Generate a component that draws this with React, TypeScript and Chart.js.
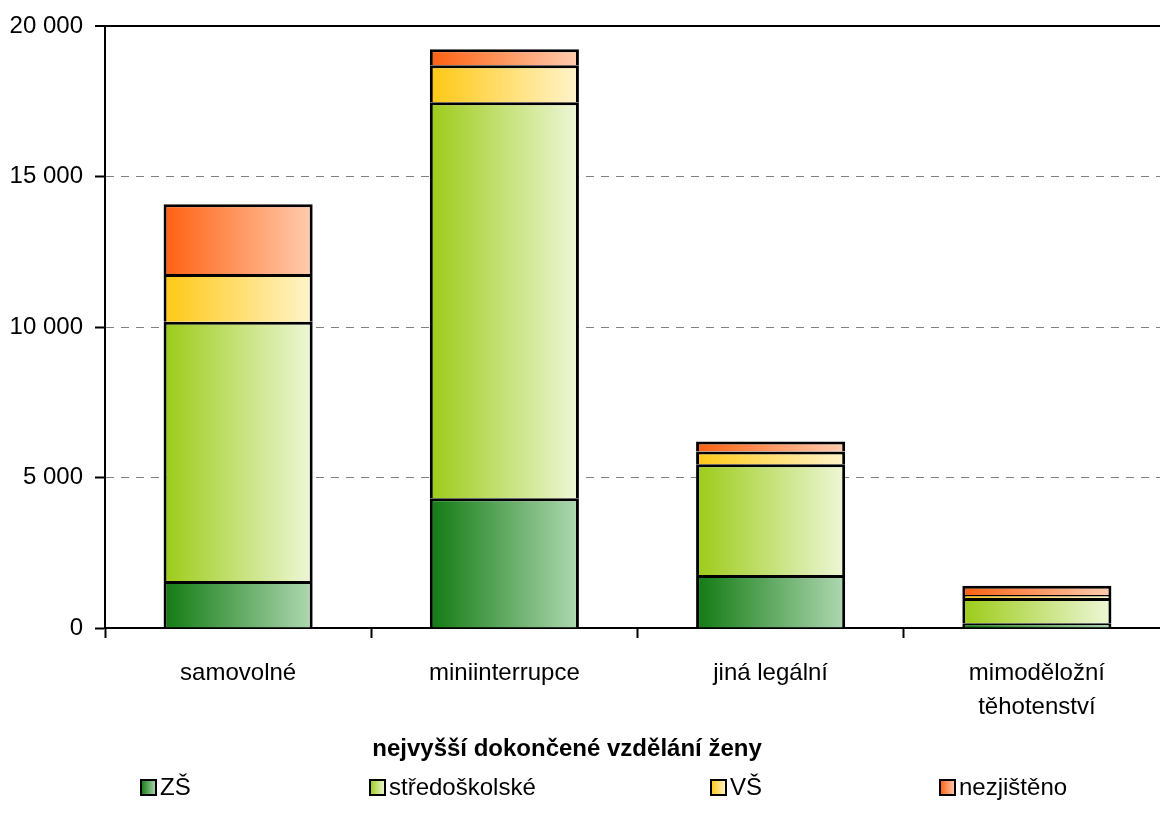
import React, { useEffect, useRef } from "react";
import { Chart, registerables } from "chart.js";

Chart.register(...registerables);

const categories: (string | string[])[] = [
  "samovolné",
  "miniinterrupce",
  "jiná legální",
  ["mimoděložní", "těhotenství"],
];
const seriesNames = ["ZŠ", "středoškolské", "VŠ", "nezjištěno"];
const zsValues = [1560, 4310, 1760, 160];
const ssValues = [8620, 13170, 3680, 835];
const vsValues = [1590, 1230, 430, 100];
const nezValues = [2320, 530, 330, 310];
const yTicks = [0, 5000, 10000, 15000, 20000];
const xTitle = "nejvyšší dokončené vzdělání ženy";

const gradColors: [string, string][] = [
  ["#127a12", "#afd8b2"],
  ["#9ccb18", "#eef7d8"],
  ["#ffc814", "#fff4cc"],
  ["#ff6010", "#ffcdb0"],
];

const FONT = "'Liberation Sans Narrow', 'Arial Narrow', 'Liberation Sans', Arial, sans-serif";
const BAR_PCT = 0.56;

const legendX = [141, 370, 711, 940];

export default function App() {
  const ref = useRef<HTMLCanvasElement | null>(null);

  useEffect(() => {
    if (!ref.current) return;
    const values = [zsValues, ssValues, vsValues, nezValues];

    const makeBg = (si: number) => (ctx: any) => {
      const chart = ctx.chart;
      const area = chart.chartArea;
      const xs = chart.scales?.x;
      if (!area || !xs || ctx.dataIndex === undefined) return gradColors[si][0];
      const cx = xs.getPixelForValue(ctx.dataIndex);
      const w = (xs.width / categories.length) * BAR_PCT;
      const g = chart.ctx.createLinearGradient(cx - w / 2, 0, cx + w / 2, 0);
      g.addColorStop(0, gradColors[si][0]);
      g.addColorStop(1, gradColors[si][1]);
      return g;
    };

    const overlay = {
      id: "overlay",
      afterDraw(chart: any) {
        const c = chart.ctx;
        c.save();
        c.fillStyle = "#000";
        c.font = `bold 24px ${FONT}`;
        c.textAlign = "center";
        c.textBaseline = "middle";
        c.fillText(xTitle, 567, 749);
        c.font = `24px ${FONT}`;
        c.textAlign = "left";
        seriesNames.forEach((name, i) => {
          const bx = legendX[i];
          const by = 780;
          const g = c.createLinearGradient(bx, 0, bx + 15, 0);
          g.addColorStop(0, gradColors[i][0]);
          g.addColorStop(1, gradColors[i][1]);
          c.fillStyle = g;
          c.fillRect(bx, by, 15, 15);
          c.strokeStyle = "#000";
          c.lineWidth = 2;
          c.strokeRect(bx, by, 15, 15);
          c.fillStyle = "#000";
          c.fillText(name, bx + 19, by + 8);
        });
        c.restore();
      },
    };

    const chart = new Chart(ref.current, {
      type: "bar",
      data: {
        labels: categories as any,
        datasets: seriesNames.map((name, i) => ({
          label: name,
          data: values[i],
          backgroundColor: makeBg(i),
          borderColor: "#000",
          borderWidth: 3,
          borderSkipped: "bottom",
          barPercentage: BAR_PCT,
          categoryPercentage: 1,
        })),
      },
      options: {
        animation: false,
        responsive: false,
        maintainAspectRatio: false,
        layout: { padding: { top: 25, right: 0, left: 0, bottom: 0 } },
        plugins: {
          legend: { display: false },
          tooltip: { enabled: false },
          title: { display: false },
        },
        scales: {
          x: {
            stacked: true,
            afterFit: (s: any) => {
              s.height = 200;
            },
            grid: {
              offset: true,
              drawOnChartArea: false,
              drawTicks: true,
              tickLength: 10,
              tickWidth: 2,
              tickColor: "#000",
              color: "#000",
            },
            border: { display: true, color: "#000", width: 2 },
            ticks: {
              color: "#000",
              padding: 19,
              font: { family: FONT, size: 24, lineHeight: 1.4 },
              maxRotation: 0,
              autoSkip: false,
            },
          },
          y: {
            stacked: true,
            min: 0,
            max: 20000,
            afterFit: (s: any) => {
              s.width = 105;
            },
            afterBuildTicks: (s: any) => {
              s.ticks = yTicks.map((v) => ({ value: v }));
            },
            grid: {
              color: (ctx: any) => (ctx.tick && ctx.tick.value === 20000 ? "#000" : "#808080"),
              lineWidth: (ctx: any) => (ctx.tick && ctx.tick.value === 20000 ? 2 : 1),
              tickLength: 10,
              tickWidth: 2,
              tickColor: "#000",
              tickBorderDash: [],
            },
            border: {
              display: true,
              color: "#000",
              width: 2,
              dash: (ctx: any) => (ctx.tick && ctx.tick.value === 20000 ? [] : [8, 7]),
            },
            ticks: {
              color: "#000",
              padding: 12,
              font: { family: FONT, size: 24 },
              callback: (v: any) => {
                const n = Number(v);
                return n >= 1000 ? `${Math.floor(n / 1000)} ${String(n % 1000).padStart(3, "0")}` : String(n);
              },
            },
          },
        },
      },
      plugins: [overlay],
    });
    return () => chart.destroy();
  }, []);

  return (
    <div
      style={{
        position: "fixed",
        left: 0,
        top: 0,
        width: 1160,
        height: 828,
        overflow: "hidden",
        background: "#fff",
      }}
    >
      <canvas ref={ref} width={1170} height={828} style={{ display: "block", width: 1170, height: 828 }} />
    </div>
  );
}
